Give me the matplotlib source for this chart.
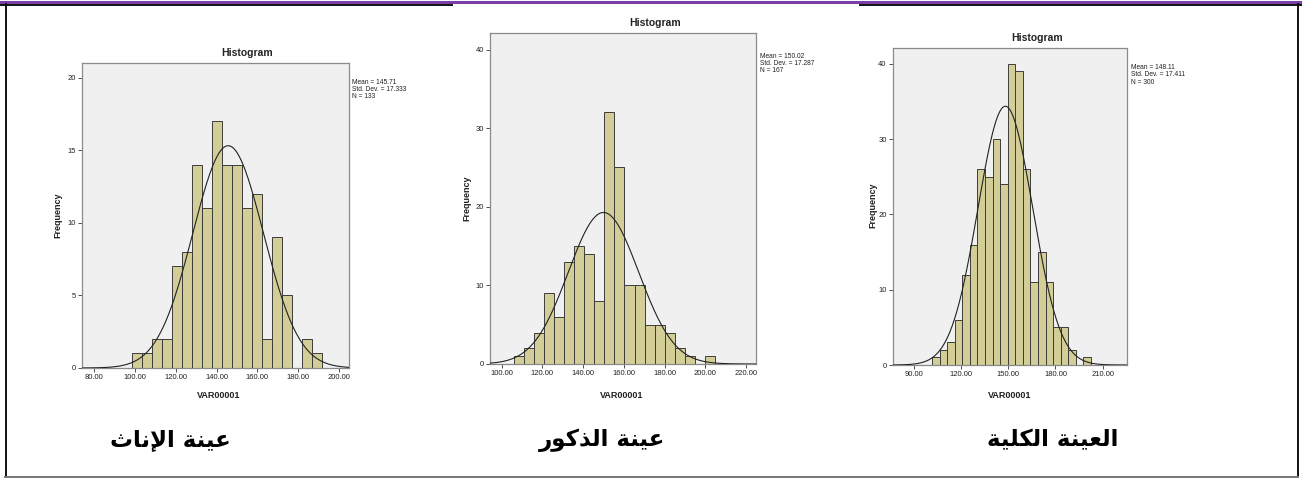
import numpy as np
import matplotlib
matplotlib.use("Agg")
import matplotlib.pyplot as plt
from matplotlib.lines import Line2D

# ---------------- data ----------------
fem_counts = [1, 1, 2, 2, 7, 8, 14, 11, 17, 14, 14, 11, 12, 2, 9, 5, 0, 2, 1]
fem_start, fem_width = 98.45, 4.92
fem_mean, fem_sd, fem_n = 145.71, 17.333, 133

male_counts = [1, 2, 4, 9, 6, 13, 15, 14, 8, 32, 25, 10, 10, 5, 5, 4, 2, 1, 0, 1]
male_start, male_width = 106.1, 4.93
male_mean, male_sd, male_n = 150.02, 17.287, 167

tot_counts = [1, 2, 3, 6, 12, 16, 26, 25, 30, 24, 40, 39, 26, 11, 15, 11, 5, 5, 2, 0, 1]
tot_start, tot_width = 101.5, 4.81
tot_mean, tot_sd, tot_n = 148.11, 17.411, 300

curve_bin_width = 5.0

fem_xticks = [80, 100, 120, 140, 160, 180, 200]
male_xticks = [100, 120, 140, 160, 180, 200, 220]
tot_xticks = [90, 120, 150, 180, 210]
fem_yticks = [0, 5, 10, 15, 20]
male_yticks = [0, 10, 20, 30, 40]
tot_yticks = [0, 10, 20, 30, 40]

stat_texts = [
    "Mean = 145.71\nStd. Dev. = 17.333\nN = 133",
    "Mean = 150.02\nStd. Dev. = 17.287\nN = 167",
    "Mean = 148.11\nStd. Dev. = 17.411\nN = 300",
]
captions = ["عينة الإناث", "عينة الذكور", "العينة الكلية"]

# ------------- Arabic shaping (presentation forms) -------------
FORMS = {
    'ع': ('\uFEC9', '\uFECA', '\uFECB', '\uFECC'),
    'ي': ('\uFEF1', '\uFEF2', '\uFEF3', '\uFEF4'),
    'ن': ('\uFEE5', '\uFEE6', '\uFEE7', '\uFEE8'),
    'ل': ('\uFEDD', '\uFEDE', '\uFEDF', '\uFEE0'),
    'ث': ('\uFE99', '\uFE9A', '\uFE9B', '\uFE9C'),
    'ك': ('\uFED9', '\uFEDA', '\uFEDB', '\uFEDC'),
    'ة': ('\uFE93', '\uFE94'),
    'ا': ('\uFE8D', '\uFE8E'),
    'إ': ('\uFE87', '\uFE88'),
    'ذ': ('\uFEAB', '\uFEAC'),
    'و': ('\uFEED', '\uFEEE'),
    'ر': ('\uFEAD', '\uFEAE'),
}
LAM_ALEF = {'ا': ('\uFEFB', '\uFEFC'), 'إ': ('\uFEF9', '\uFEFA')}


def shape(text):
    chars = list(text)
    out = []
    i = 0
    while i < len(chars):
        c = chars[i]
        if c not in FORMS:
            out.append(c)
            i += 1
            continue
        prev = chars[i - 1] if i > 0 else None
        pj = prev in FORMS and len(FORMS[prev]) == 4
        if c == 'ل' and i + 1 < len(chars) and chars[i + 1] in LAM_ALEF:
            out.append(LAM_ALEF[chars[i + 1]][1 if pj else 0])
            i += 2
            continue
        nxt = chars[i + 1] if i + 1 < len(chars) else None
        f = FORMS[c]
        nj = len(f) == 4 and nxt in FORMS
        if pj and nj:
            g = f[3]
        elif pj:
            g = f[1]
        elif nj:
            g = f[2]
        else:
            g = f[0]
        out.append(g)
        i += 1
    return ''.join(reversed(out))


# ---------------- figure ----------------
W, H = 1302, 482
fig = plt.figure(figsize=(W / 100, H / 100), dpi=100)
fig.patch.set_facecolor("white")
FONT = "Liberation Sans"


def fx(px):
    return px / W


def fy(py):
    return 1 - py / H


def panel(box, counts, start, width, mean, sd, n, xlim, ylim, xticks, yticks,
          stat, stat_xy, title_xy, xlabel_xy, ylabel_xy):
    l, r, t, b = box
    ax = fig.add_axes([fx(l), fy(b), fx(r - l), (b - t) / H])
    ax.set_facecolor("#F0F0F0")
    edges = start + width * np.arange(len(counts) + 1)
    ax.bar(edges[:-1], counts, width=width, align="edge", color="#D3CE97",
           edgecolor="#3C3C3C", linewidth=0.7, zorder=2)
    xs = np.linspace(xlim[0], xlim[1], 400)
    ys = n * curve_bin_width * np.exp(-0.5 * ((xs - mean) / sd) ** 2) / (sd * np.sqrt(2 * np.pi))
    ax.plot(xs, ys, color="#222222", linewidth=0.8, zorder=3)
    ax.set_xlim(*xlim)
    ax.set_ylim(*ylim)
    ax.set_xticks(xticks)
    ax.set_xticklabels([f"{v:.2f}" for v in xticks])
    ax.set_yticks(yticks)
    ax.set_yticklabels([str(v) for v in yticks])
    ax.tick_params(axis="both", labelsize=5.5, length=3, width=0.6, color="#333333",
                   pad=1.5, labelcolor="#222222")
    for lab in ax.get_xticklabels() + ax.get_yticklabels():
        lab.set_fontfamily(FONT)
    for s in ax.spines.values():
        s.set_color("#8A8A8A")
        s.set_linewidth(0.9)
    fig.text(fx(stat_xy[0]), fy(stat_xy[1]), stat, fontsize=4.8, family=FONT,
             va="top", ha="left", linespacing=1.05, color="#222222")
    fig.text(fx(title_xy[0]), fy(title_xy[1]), "Histogram", fontsize=7.5,
             family=FONT, weight="bold", ha="center", va="center", color="#222222")
    fig.text(fx(xlabel_xy[0]), fy(xlabel_xy[1]), "VAR00001", fontsize=6.5,
             family=FONT, weight="bold", ha="center", va="center", color="#222222")
    fig.text(fx(ylabel_xy[0]), fy(ylabel_xy[1]), "Frequency", fontsize=6.5,
             family=FONT, weight="bold", ha="center", va="center", rotation=90,
             color="#222222")
    return ax


panel((82, 349, 63, 368), fem_counts, fem_start, fem_width, fem_mean, fem_sd, fem_n,
      (74, 205), (0, 21), fem_xticks, fem_yticks, stat_texts[0],
      (352, 79), (247, 53), (219, 395), (58, 215))
panel((490, 756, 33, 364), male_counts, male_start, male_width, male_mean, male_sd, male_n,
      (94.3, 224.9), (0, 42.1), male_xticks, male_yticks, stat_texts[1],
      (760, 53), (655, 23), (622, 395), (467, 198))
panel((893, 1127, 48, 365), tot_counts, tot_start, tot_width, tot_mean, tot_sd, tot_n,
      (76.6, 225.5), (0, 42.1), tot_xticks, tot_yticks, stat_texts[2],
      (1131, 64), (1037, 38), (1010, 395), (873, 205))

# Arabic captions
for txt, x in zip(captions, [170, 602, 1053]):
    fig.text(fx(x), fy(440), shape(txt), fontsize=16.5, family="DejaVu Sans",
             weight="bold", ha="center", va="center", color="black")

# page border
fig.add_artist(Line2D([0, 1], [fy(2), fy(2)], transform=fig.transFigure,
                      color="#7B3FA8", linewidth=2.2))
fig.add_artist(Line2D([0, fx(452)], [fy(4.5), fy(4.5)], transform=fig.transFigure,
                      color="#111111", linewidth=1.4))
fig.add_artist(Line2D([fx(860), 1], [fy(4.5), fy(4.5)], transform=fig.transFigure,
                      color="#111111", linewidth=1.4))
fig.add_artist(Line2D([fx(5.5), fx(5.5)], [fy(4), fy(477)], transform=fig.transFigure,
                      color="#111111", linewidth=1.4))
fig.add_artist(Line2D([fx(1297.5), fx(1297.5)], [fy(4), fy(477)], transform=fig.transFigure,
                      color="#111111", linewidth=1.4))
fig.add_artist(Line2D([fx(5), fx(1298)], [fy(477), fy(477)], transform=fig.transFigure,
                      color="#777777", linewidth=1.4))

fig.savefig("out.png", dpi=100)
